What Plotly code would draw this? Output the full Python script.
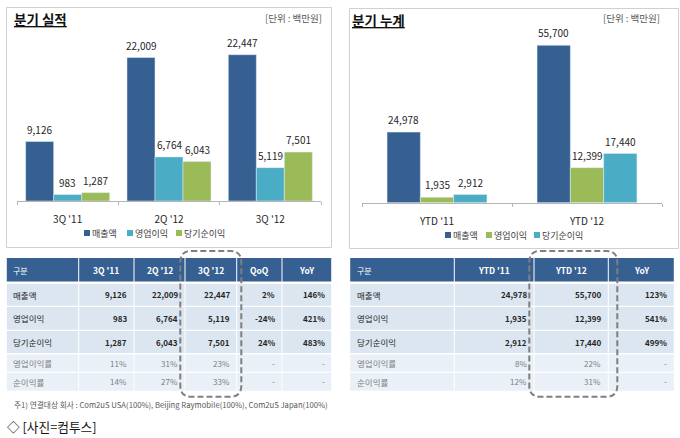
import plotly.graph_objects as go

W, H = 680, 438
FONT = "Noto Sans CJK KR"

# chart data
series_names = ["매출액", "영업이익", "당기순이익"]
q_categories = ["3Q '11", "2Q '12", "3Q '12"]
q_sales = [9126, 22009, 22447]
q_op = [983, 6764, 5119]
q_net = [1287, 6043, 7501]
ytd_categories = ["YTD '11", "YTD '12"]
ytd_sales = [24978, 55700]
ytd_op = [1935, 12399]
ytd_net = [2912, 17440]

# table data
q_header = ["구분", "3Q '11", "2Q '12", "3Q '12", "QoQ", "YoY"]
q_rows = [
    ["매출액", "9,126", "22,009", "22,447", "2%", "146%"],
    ["영업이익", "983", "6,764", "5,119", "-24%", "421%"],
    ["당기순이익", "1,287", "6,043", "7,501", "24%", "483%"],
    ["영업이익률", "11%", "31%", "23%", "-", "-"],
    ["순이익률", "14%", "27%", "33%", "-", "-"],
]
ytd_header = ["구분", "YTD '11", "YTD '12", "YoY"]
ytd_rows = [
    ["매출액", "24,978", "55,700", "123%"],
    ["영업이익", "1,935", "12,399", "541%"],
    ["당기순이익", "2,912", "17,440", "499%"],
    ["영업이익률", "8%", "22%", "-"],
    ["순이익률", "12%", "31%", "-"],
]

# colours
BLUE = "#366092"
TEAL = "#4bacc6"
GREEN = "#9bbb59"
TEXT = "#262626"


def px(x):
    return x / W


def py(y):
    return 1 - y / H


fig = go.Figure()


def add_bars(cats, values, colors, xa, ya, bar_w, bar_px):
    # three bars side by side, width in category units, labels just above each bar
    for k, (name, vals, color) in enumerate(zip(series_names, values, colors)):
        fig.add_trace(go.Bar(x=cats, y=vals, name=name, marker_color=color,
                             width=bar_w, offset=(k - 1.5) * bar_w,
                             showlegend=False, xaxis=xa, yaxis=ya))
        for cat, v in zip(cats, vals):
            fig.add_annotation(xref=xa, yref=ya, x=cat, y=v, text=f"{v:,}", showarrow=False,
                               xshift=(k - 1) * bar_px, yshift=12.3, yanchor="middle",
                               font=dict(size=10, color=TEXT, family=FONT))


add_bars(q_categories, [q_sales, q_op, q_net], [BLUE, TEAL, GREEN], "x", "y", 28 / 101.3, 28)
add_bars(ytd_categories, [ytd_sales, ytd_op, ytd_net], [BLUE, GREEN, TEAL], "x2", "y2", 33.3 / 150, 33.3)

x_style = dict(showline=True, linecolor="#b5b5b5", ticks="outside", tickson="boundaries",
               tickcolor="#b5b5b5", ticklen=3, showgrid=False, ticklabelstandoff=9,
               tickfont=dict(size=10, color=TEXT))
y_style = dict(visible=False, showgrid=False)

fig.update_layout(
    width=W, height=H, margin=dict(l=0, r=0, t=0, b=0),
    paper_bgcolor="white", plot_bgcolor="rgba(0,0,0,0)",
    font=dict(family=FONT, color=TEXT),
    barmode="overlay", showlegend=False,
    xaxis=dict(domain=[px(17), px(321)], anchor="y", **x_style),
    yaxis=dict(domain=[py(201), py(20)], anchor="x", range=[0, 27770], **y_style),
    xaxis2=dict(domain=[px(362), px(662)], anchor="y2", **x_style),
    yaxis2=dict(domain=[py(202.7), py(20)], anchor="x2", range=[0, 64650], **y_style),
)


def rect(x0, y0, x1, y1, fill=None, line=None, layer="below"):
    fig.add_shape(type="rect", xref="paper", yref="paper", layer=layer,
                  x0=px(x0), x1=px(x1), y0=py(y0), y1=py(y1),
                  fillcolor=fill or "rgba(0,0,0,0)",
                  line=dict(color=line or "rgba(0,0,0,0)", width=1))


def label(x, y, text, size=10, color=TEXT, anchor="center"):
    # annotations carry about 2px of padding at the anchored side
    shift = {"left": -2, "right": 2, "center": 0}[anchor]
    fig.add_annotation(xref="paper", yref="paper", x=px(x + shift), y=py(y), text=text, showarrow=False,
                       xanchor=anchor, yanchor="middle", font=dict(size=size, color=color, family=FONT))


def dashed_box(x0, y0, x1, y1, r=11):
    a, b, c, d = px(x0), py(y0), px(x1), py(y1)
    rx, ry = r / W, r / H
    path = (f"M {a + rx} {b} L {c - rx} {b} Q {c} {b} {c} {b - ry} L {c} {d + ry} "
            f"Q {c} {d} {c - rx} {d} L {a + rx} {d} Q {a} {d} {a} {d + ry} "
            f"L {a} {b - ry} Q {a} {b} {a + rx} {b} Z")
    fig.add_shape(type="path", path=path, xref="paper", yref="paper", layer="above",
                  line=dict(color="#7f7f7f", width=2, dash="6px,3px"))


def draw_legend(y, swatch_x, colors):
    for sx, name, color in zip(swatch_x, series_names, colors):
        rect(sx, y - 3, sx + 6, y + 3, fill=color)
        label(sx + 8, y, name, size=9, color="#404040", anchor="left")


def draw_table(edges, header, rows):
    # header band
    for i, head in enumerate(header):
        rect(edges[i] + 0.5, 258, edges[i + 1] - 0.5, 281.5, fill=BLUE)
        if i == 0:
            label(edges[0] + 7, 270, head, size=8, color="white", anchor="left")
        else:
            label((edges[i] + edges[i + 1]) / 2, 270, f"<b>{head}</b>", size=8.5, color="white")
    # body rows
    tops = [284, 307, 331, 354.5, 373]
    bottoms = [305.7, 329.7, 353, 371.7, 390.7]
    for r, row in enumerate(rows):
        strong = r < 3
        fill = "#dce6f1" if strong else "#eaf0f7"
        color = TEXT if strong else "#7f7f7f"
        mid = (tops[r] + bottoms[r]) / 2
        for i, cell in enumerate(row):
            rect(edges[i] + 0.5, tops[r], edges[i + 1] - 0.5, bottoms[r], fill=fill)
            shown = f"<b>{cell}</b>" if strong and i > 0 else cell
            if i == 0:
                label(edges[0] + 7, mid, shown, size=8.5, color=color, anchor="left")
            else:
                label(edges[i + 1] - 7, mid, shown, size=8, color=color, anchor="right")


# chart panels
rect(6.5, 7.5, 331.5, 247.5, line="#d0d0d0")
rect(349.5, 8.5, 678.5, 248.5, line="#d0d0d0")
label(14, 19, "<b><u>분기 실적</u></b>", size=13.5, color="#111111", anchor="left")
label(352, 20, "<b><u>분기 누계</u></b>", size=13.5, color="#111111", anchor="left")
label(322, 18, "[단위 : 백만원]", size=9.5, color="#595959", anchor="right")
label(660, 18, "[단위 : 백만원]", size=9.5, color="#595959", anchor="right")
draw_legend(233, [84, 127, 176], [BLUE, TEAL, GREEN])
draw_legend(235, [445, 486, 534], [BLUE, GREEN, TEAL])

# tables
draw_table([6.3, 78.7, 134, 185, 236.7, 282, 331.7], q_header, q_rows)
draw_table([349.7, 454.3, 534, 608.3, 674.3], ytd_header, ytd_rows)
dashed_box(180.3, 251, 241.3, 396.7)
dashed_box(529.3, 251, 617.3, 396.7)

label(13.7, 404, "주1) 연결대상 회사 : Com2uS USA(100%), Beijing Raymobile(100%), Com2uS Japan(100%)",
      size=7.7, color="#595959", anchor="left")
label(6.7, 426, "◇ [사진=컴투스]", size=12.7, color="#111111", anchor="left")

fig.write_html("out.html", post_script="document.body.style.margin='0';",
               config={"displayModeBar": False})
